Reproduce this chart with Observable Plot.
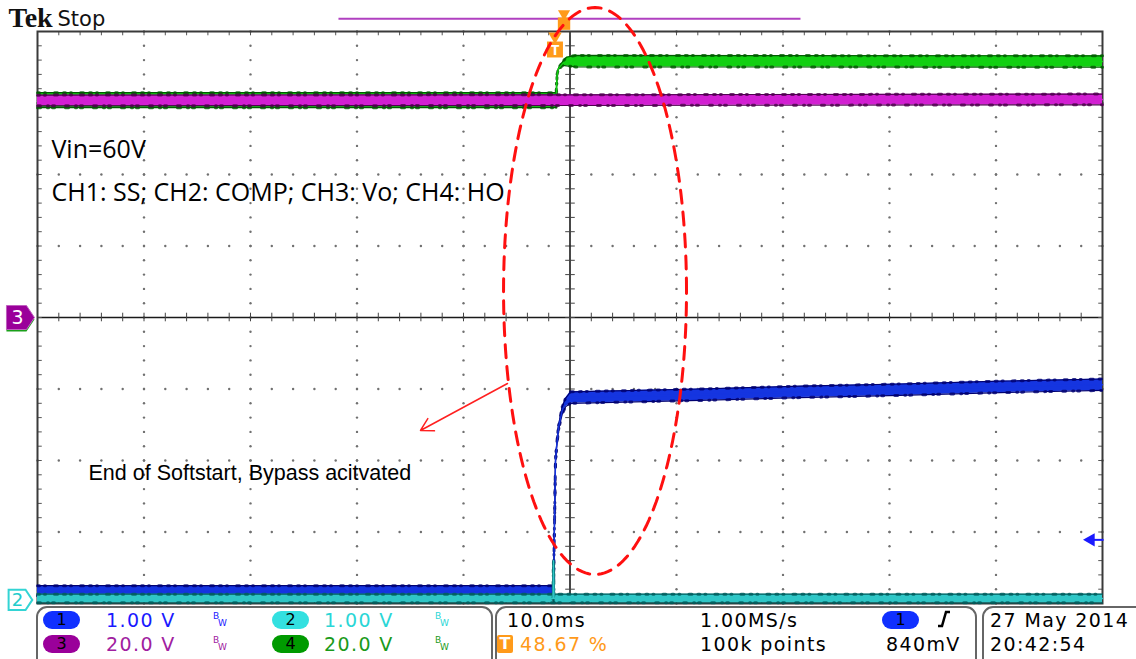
<!DOCTYPE html>
<html>
<head>
<meta charset="utf-8">
<script src="https://cdn.jsdelivr.net/npm/d3@7"></script>
<script src="https://cdn.jsdelivr.net/npm/@observablehq/plot@0.6"></script>
<style>
  body { margin: 0; background: #fff; }
  #wrap { position: relative; width: 1136px; height: 659px; overflow: hidden; font-family: "DejaVu Sans", sans-serif; }
  #wrap svg { display: block; position: absolute; left: 0; top: 0; }
  .box { position: absolute; border: 2px solid #666; border-radius: 11px; box-sizing: border-box; }
  .t { position: absolute; font-size: 19px; line-height: 19px; letter-spacing: 1.4px; white-space: nowrap; }
  .pill { position: absolute; width: 37px; height: 18px; border-radius: 9px; color: #000; font-size: 16px; line-height: 18px; text-align: center; }
  .bw { position: absolute; font-size: 9px; line-height: 9px; }
</style>
</head>
<body>
<div id="wrap"></div>
<script>
// ---------------- data ----------------
// time in ms (10 ms/div, centre = 0), values in volts
const ch1Time   = [-50, -1.6, -1.55, -1.5, -1.36, -1.25, -1.08, -0.73, -0.42, 0.05, 12.2, 21.6, 31, 40.4, 50];
const ch1Volts  = [0.13, 0.13, 0.14, 0.65, 1.95, 2.16, 2.41, 2.65, 2.76, 2.83, 2.87, 2.91, 2.94, 2.98, 3.01];
const ch1Spread = [0.07, 0.07, 0.01, 0.01, 0.01, 0.02, 0.03, 0.05, 0.06, 0.08, 0.08, 0.08, 0.08, 0.08, 0.08];

const ch2Time   = [-50, -1.6, -1.55, -1.5, 50];
const ch2Volts  = [0.02, 0.02, 0.55, 0.02, 0.02];
const ch2Spread = [0.06, 0.06, 0.01, 0.06, 0.06];

const ch3Time   = [-50, 0, 50];
const ch3Volts  = [60.7, 60.8, 61.0];
const ch3Spread = [1.5, 1.5, 1.5];

const ch4Time   = [-50, -1.3, -1.22, -1.08, -0.7, -0.33, 0.5, 50];
const ch4Volts  = [60.8, 60.8, 67.7, 69.6, 71.0, 71.6, 71.7, 71.6];
const ch4Spread = [2.1, 2.1, 0.2, 0.2, 0.5, 1.2, 1.6, 1.6];

// channel settings
const chLabels      = ["1", "2", "3", "4"];
const chVoltsPerDiv = [1, 1, 20, 20];
const chScaleLabels = ["1.00 V", "1.00 V", "20.0 V", "20.0 V"];
const chGroundDiv   = [-3.95, -3.95, 0, 0];
const chCore        = ["#1535e0", "#2fc6c6", "#d21fd2", "#12d012"];
const chEdge        = ["#000070", "#005c5c", "#4e004e", "#005a00"];
const chText        = ["#1a1aff", "#2ad6d6", "#a020a0", "#1a9a1a"];
const chPill        = ["#1030ff", "#33e0e0", "#9a009a", "#009a00"];

// acquisition info
const timePerDiv   = "10.0ms";
const triggerPos   = "48.67 %";
const sampleRate   = "1.00MS/s";
const recordLength = "100k points";
const trigLevelLbl = "840mV";
const trigLevelV   = 0.84;
const trigTime     = -1.41;
const dateLabel    = "27 May 2014";
const timeLabel    = "20:42:54";

// annotations
const noteLines  = ["Vin=60V", "CH1: SS; CH2: COMP; CH3: Vo; CH4: HO"];
const noteT      = [-48.69, -48.69];
const noteY      = [2.224, 1.636];
const calloutTxt = "End of Softstart, Bypass acitvated";
const ellipseC   = {t: 2.35, y: 0.371, rt: 8.59, ry: 3.965};
const arrowPts   = {t1: -5.87, y1: -0.923, t2: -14.04, y2: -1.58};

// ---------------- helpers ----------------
const toDiv = (c, v) => chGroundDiv[c] + v / chVoltsPerDiv[c];
function rows(c, T, V, S) {
  return T.map((t, i) => ({t, y: toDiv(c, V[i]), lo: toDiv(c, V[i] - S[i]), hi: toDiv(c, V[i] + S[i])}));
}
const traces = [
  rows(0, ch1Time, ch1Volts, ch1Spread),
  rows(1, ch2Time, ch2Volts, ch2Spread),
  rows(2, ch3Time, ch3Volts, ch3Spread),
  rows(3, ch4Time, ch4Volts, ch4Spread)
];
function traceMarks(c) {
  const r = traces[c];
  return [
    Plot.areaY(r, {x: "t", y1: "lo", y2: "hi", fill: chCore[c]}),
    Plot.line(r, {x: "t", y: "hi", stroke: chEdge[c], strokeWidth: 1.2}),
    Plot.line(r, {x: "t", y: "lo", stroke: chEdge[c], strokeWidth: 1.2}),
    // sampled-noise texture along the band edges
    Plot.line(r, {x: "t", y: "hi", stroke: chEdge[c], strokeWidth: 3, strokeDasharray: "2,5,1,9,3,6", strokeOpacity: 0.8}),
    Plot.line(r, {x: "t", y: "lo", stroke: chEdge[c], strokeWidth: 3, strokeDasharray: "3,7,1,4,2,11", strokeOpacity: 0.8}),
    Plot.line(r, {x: "t", y: "y", stroke: chCore[c], strokeWidth: 1.4})
  ];
}

// graticule positions (10 x 8 divisions, 5 minor per division)
const xMinor = d3.range(-50, 50.001, 2);
const yMinor = d3.range(-4, 4.001, 0.2);
const xMajor = [-40, -30, -20, -10, 10, 20, 30, 40];
const yMajor = [-3, -2, -1, 1, 2, 3];
const gridDots = [
  ...yMajor.flatMap(y => xMinor.map(t => ({t, y}))),
  ...xMajor.flatMap(t => yMinor.map(y => ({t, y})))
];

const ellipsePts = d3.range(0, 361, 2).map(a => ({
  t: ellipseC.t + ellipseC.rt * Math.cos(a * Math.PI / 180),
  y: ellipseC.y + ellipseC.ry * Math.sin(a * Math.PI / 180)
}));

const pointer = {
  draw(ctx, size) {
    const k = Math.sqrt(size / Math.PI) / 13;
    ctx.moveTo(-14 * k, -12 * k);
    ctx.lineTo(6 * k, -12 * k);
    ctx.lineTo(14 * k, 0);
    ctx.lineTo(6 * k, 12 * k);
    ctx.lineTo(-14 * k, 12 * k);
    ctx.closePath();
  }
};

const orange = "#ff9a1a";
const markerT = -51.6;

const chart = Plot.plot({
  width: 1136,
  height: 659,
  marginLeft: 37,
  marginRight: 34,
  marginTop: 31,
  marginBottom: 56,
  x: {domain: [-50, 50], axis: null},
  y: {domain: [-4, 4], axis: null},
  style: {background: "#fff", overflow: "visible"},
  marks: [
    // graticule
    Plot.dot(gridDots, {x: "t", y: "y", r: 1.2, fill: "#707070"}),
    Plot.ruleX([0], {stroke: "#1a1a1a", strokeWidth: 1.6}),
    Plot.ruleY([0], {stroke: "#1a1a1a", strokeWidth: 1.6}),
    Plot.ruleX(xMinor, {y1: -0.06, y2: 0.06, stroke: "#444", strokeWidth: 1}),
    Plot.link(yMinor, {x1: -0.45, x2: 0.45, y1: d => d, y2: d => d, stroke: "#444", strokeWidth: 1}),
    Plot.ruleX(xMinor, {y1: 3.94, y2: 4, stroke: "#555", strokeWidth: 1}),
    Plot.ruleX(xMinor, {y1: -4, y2: -3.94, stroke: "#555", strokeWidth: 1}),
    Plot.link(yMinor, {x1: -50, x2: -49.6, y1: d => d, y2: d => d, stroke: "#555", strokeWidth: 1}),
    Plot.link(yMinor, {x1: 49.6, x2: 50, y1: d => d, y2: d => d, stroke: "#555", strokeWidth: 1}),
    Plot.frame({stroke: "#3a3a3a", strokeWidth: 2}),
    // traces
    ...traceMarks(3),
    ...traceMarks(2),
    ...traceMarks(0),
    ...traceMarks(1),
    // record view bar + trigger markers
    Plot.link([0], {x1: -21.74, x2: 21.64, y1: 4.18, y2: 4.18, stroke: "#b040c0", strokeWidth: 2}),
    Plot.dot([0], {x: -0.56, y: 4.18, symbol: "triangle", rotate: 180, r: 4.5, fill: orange, dy: -5}),
    Plot.dot([0], {x: -0.56, y: 4.18, symbol: "square", r: 7, fill: orange, dy: 5}),
    Plot.dot([0], {x: trigTime, y: 4, symbol: "triangle", rotate: 180, r: 5, fill: orange, dy: 5}),
    Plot.dot([0], {x: trigTime, y: 4, symbol: "square", r: 9, fill: orange, dy: 18}),
    Plot.text(["T"], {x: trigTime, y: 4, dy: 19, fill: "#fff", fontSize: 15, fontWeight: "bold"}),
    // channel ground markers
    Plot.dot([0], {x: markerT, y: chGroundDiv[3], symbol: pointer, r: 13, fill: "#1aa01a", dy: 2}),
    Plot.dot([0], {x: markerT, y: chGroundDiv[2], symbol: pointer, r: 13, fill: chPill[2], stroke: "#c060c0", strokeWidth: 1}),
    Plot.text([chLabels[2]], {x: markerT, y: chGroundDiv[2], dx: -3, fill: "#fff", fontSize: 19, fontFamily: "DejaVu Sans"}),
    Plot.dot([0], {x: markerT, y: chGroundDiv[1], symbol: pointer, r: 11, fill: "#fff", stroke: "#33d4d4", strokeWidth: 2}),
    Plot.text([chLabels[1]], {x: markerT, y: chGroundDiv[1], dx: -3, fill: "#22cccc", fontSize: 18, fontFamily: "DejaVu Sans"}),
    // trigger level arrow (CH1)
    Plot.link([0], {x1: 48.9, x2: 50.1, y1: toDiv(0, trigLevelV), y2: toDiv(0, trigLevelV), stroke: "#1a1aff", strokeWidth: 2}),
    Plot.dot([0], {x: 48.9, y: toDiv(0, trigLevelV), symbol: "triangle", rotate: -90, r: 5, fill: "#1a1aff"}),
    // title
    Plot.text(["Tek"], {x: -52.72, y: 4.056, textAnchor: "start", lineAnchor: "bottom", fontFamily: "Liberation Serif", fontWeight: "bold", fontSize: 28, fill: "#111", letterSpacing: "-1.5px"}),
    Plot.text(["Stop"], {x: -48.12, y: 4.07, textAnchor: "start", lineAnchor: "bottom", fontFamily: "DejaVu Sans", fontSize: 21, fill: "#111"}),
    // annotations
    Plot.text(noteLines, {x: (d, i) => noteT[i], y: (d, i) => noteY[i], text: d => d, textAnchor: "start", lineAnchor: "bottom", fontFamily: "Open Sans", fontSize: 25, fill: "#000"}),
    Plot.text([calloutTxt], {x: -45.21, y: -2.266, textAnchor: "start", lineAnchor: "bottom", fontFamily: "Liberation Sans", fontSize: 21.5, fill: "#000"}),
    Plot.arrow([arrowPts], {x1: "t1", y1: "y1", x2: "t2", y2: "y2", stroke: "#ff2020", strokeWidth: 1.5, headLength: 14, bend: 0}),
    Plot.line(ellipsePts, {x: "t", y: "y", stroke: "#ff1010", strokeWidth: 3, strokeDasharray: "13,9"})
  ]
});

const wrap = document.getElementById("wrap");
wrap.appendChild(chart);

// ---------------- status panel (HTML below the graticule) ----------------
function el(cls, left, top, html, style) {
  const d = document.createElement("div");
  d.className = cls;
  d.style.left = left + "px";
  d.style.top = top + "px";
  d.innerHTML = html;
  if (style) Object.assign(d.style, style);
  wrap.appendChild(d);
  return d;
}
el("box", 36, 606, "", {width: "457px", height: "70px"});
el("box", 495, 606, "", {width: "482px", height: "70px"});
el("box", 982, 606, "", {width: "180px", height: "70px"});

const rowTop  = [611, 635];
const pillTop = [611, 635];
const colPill = [43, 272];
const colText = [106, 324];
const colBW   = [213, 435];
chLabels.forEach((lab, c) => {
  const row = c < 2 ? 0 : 1, col = c % 2;
  el("pill", colPill[col], pillTop[row], lab, {background: chPill[c]});
  el("t", colText[col], rowTop[row], chScaleLabels[c], {color: chText[c]});
  el("bw", colBW[col], rowTop[row] + 1, "B", {color: chText[c]});
  el("bw", colBW[col] + 5, rowTop[row] + 8, "W", {color: chText[c]});
});
el("t", 507, rowTop[0], timePerDiv, {color: "#000"});
el("pill", 497, pillTop[1], "T", {background: orange, color: "#fff", width: "16px", borderRadius: "2px", fontWeight: "bold"});
el("t", 520, rowTop[1], triggerPos, {color: orange});
el("t", 700, rowTop[0], sampleRate, {color: "#000"});
el("t", 700, rowTop[1], recordLength, {color: "#000"});
el("pill", 882, pillTop[0], chLabels[0], {background: chPill[0]});
el("t", 936, rowTop[0] - 1, '<svg width="16" height="18"><path d="M2,16 H6 L10,2 H14" fill="none" stroke="#000" stroke-width="2.5"/></svg>', {});
el("t", 886, rowTop[1], trigLevelLbl, {color: "#000"});
el("t", 990, rowTop[0], dateLabel, {color: "#000"});
el("t", 990, rowTop[1], timeLabel, {color: "#000"});
</script>
</body>
</html>
